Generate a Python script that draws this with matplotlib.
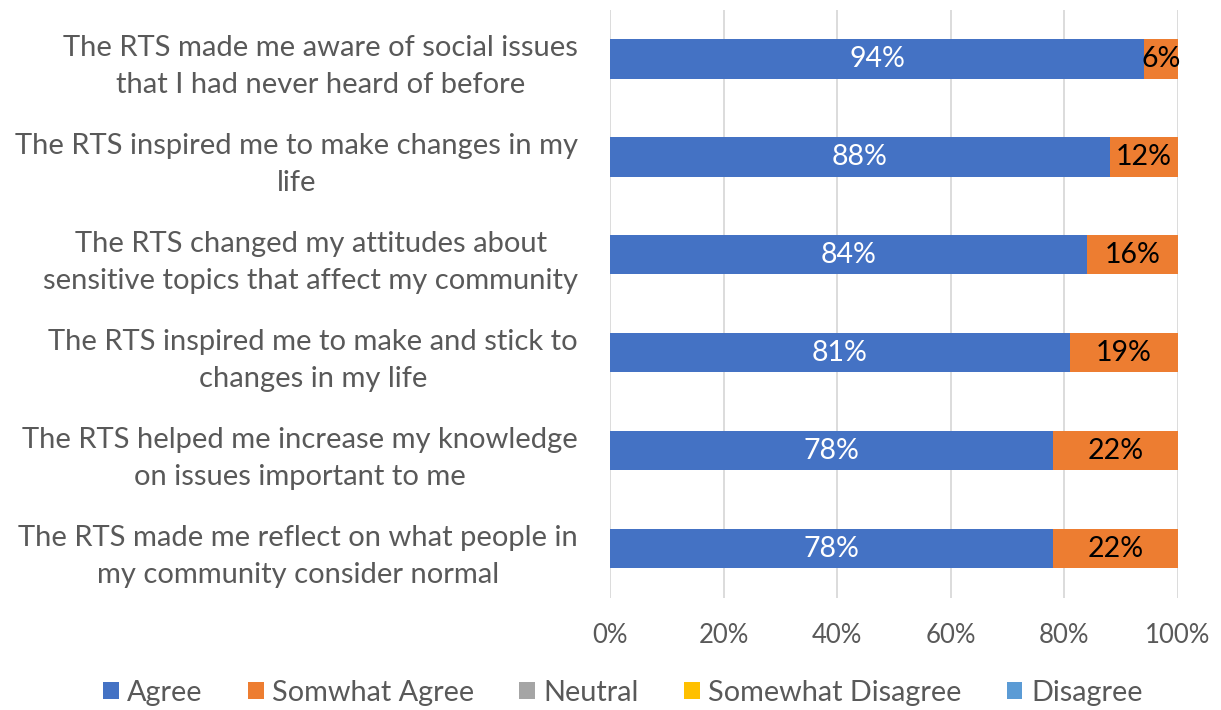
import matplotlib.pyplot as plt
from matplotlib.patches import Patch
import numpy as np

plt.rcParams['font.family'] = ['Lato', 'DejaVu Sans']

statements = [
    "The RTS made me aware of social issues\nthat I had never heard of before",
    "The RTS inspired me to make changes in my\nlife",
    "The RTS changed my attitudes about\nsensitive topics that affect my community",
    "The RTS inspired me to make and stick to\nchanges in my life",
    "The RTS helped me increase my knowledge\non issues important to me",
    "The RTS made me reflect on what people in\nmy community consider normal",
]
series = ["Agree", "Somwhat Agree", "Neutral", "Somewhat Disagree", "Disagree"]
agree = [94, 88, 84, 81, 78, 78]
somewhat_agree = [6, 12, 16, 19, 22, 22]
neutral = [0, 0, 0, 0, 0, 0]
somewhat_disagree = [0, 0, 0, 0, 0, 0]
disagree = [0, 0, 0, 0, 0, 0]
x_ticks = [0, 20, 40, 60, 80, 100]

colors = ["#4472C4", "#ED7D31", "#A5A5A5", "#FFC000", "#5B9BD5"]
label_colors = ["white", "black", "black", "black", "black"]
text_gray = "#595959"

fig = plt.figure(figsize=(12.21, 7.10), dpi=100)
ax = fig.add_axes([0.4996, 0.158, 0.4652, 0.828])

y = np.arange(len(statements))
left = np.zeros(len(statements))
for name, vals, c, lc in zip(series, [agree, somewhat_agree, neutral, somewhat_disagree, disagree],
                             colors, label_colors):
    vals = np.array(vals, dtype=float)
    bars = ax.barh(y, vals, left=left, height=0.4, color=c, label=name, zorder=3)
    for b, v in zip(bars, vals):
        if v > 0:
            ax.text(b.get_x() + b.get_width() / 2, b.get_y() + b.get_height() / 2,
                    f"{int(v)}%", ha='center', va='center', color=lc, fontsize=20.5, zorder=4)
    left += vals

ax.set_xlim(0, 100)
ax.set_ylim(len(statements) - 0.5, -0.5)
ax.set_xticks(x_ticks)
ax.set_xticklabels([f"{t}%" for t in x_ticks], fontsize=18.5, color=text_gray)
ax.set_yticks(y)
ax.set_yticklabels(statements, fontsize=21, color=text_gray, multialignment='center',
                   linespacing=1.5)
ax.tick_params(axis='y', length=0, pad=23)
ax.tick_params(axis='x', length=0, pad=18)
ax.grid(axis='x', color='#D9D9D9', linewidth=1.3, zorder=0)
for s in ax.spines.values():
    s.set_visible(False)

handles = [Patch(facecolor=c, label=n) for n, c in zip(series, colors)]
fig.legend(handles=handles, loc='center', bbox_to_anchor=(0.51, 0.024), ncol=5, frameon=False,
           fontsize=20.8, labelcolor=text_gray, handlelength=0.55, handleheight=0.55,
           handletextpad=0.3, columnspacing=1.55)

fig.savefig("out.png", dpi=100)
